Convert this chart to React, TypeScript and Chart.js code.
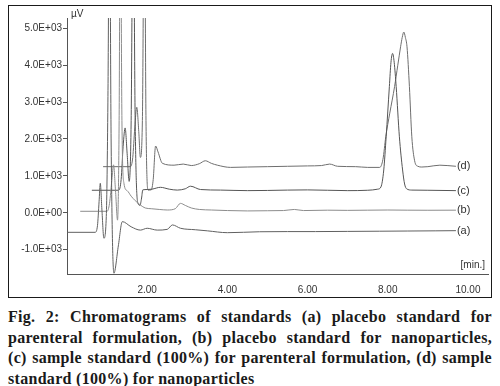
import React, { useEffect, useRef } from 'react';
import { Chart, registerables } from 'chart.js';

Chart.register(...registerables);

// ---- axis ticks ----
const xTickValues = [2, 4, 6, 8, 10];
const xTickLabels = ['2.00', '4.00', '6.00', '8.00', '10.00'];
const yTickValues = [-1000, 0, 1000, 2000, 3000, 4000, 5000];
const yTickLabels = ['-1.0E+03', '0.0E+00', '1.0E+03', '2.0E+03', '3.0E+03', '4.0E+03', '5.0E+03'];

// ---- series ----
const seriesNames = ['(a)', '(b)', '(c)', '(d)'];
const seriesColors = ['#606060', '#8c8c8c', '#555555', '#6e6e6e'];

const timeA = [0, 0.70, 0.76, 0.80, 0.83, 0.87, 0.92, 0.98, 1.02, 1.06, 1.10, 1.17, 1.28, 1.38, 1.60, 1.83, 2.0, 2.25, 2.5, 2.63, 2.83, 3.2, 3.5, 4.0, 4.8, 5.5, 6.2, 7.0, 7.8, 8.5, 9.2, 9.7];
const signalA = [-530, -530, -350, 300, 800, 100, -690, -100, 3000, 9000, 2000, -1640, -900, -240, -380, -470, -420, -470, -450, -330, -420, -460, -490, -540, -515, -510, -510, -505, -500, -495, -490, -485];

const timeB = [0.33, 1.00, 1.06, 1.12, 1.16, 1.21, 1.26, 1.30, 1.33, 1.37, 1.42, 1.50, 1.60, 1.70, 1.83, 1.95, 2.1, 2.3, 2.5, 2.7, 2.83, 2.95, 3.1, 3.3, 3.6, 4.0, 4.5, 5.0, 5.4, 5.67, 5.9, 6.5, 7.0, 7.5, 8.0, 8.5, 9.0, 9.7];
const signalB = [40, 40, 250, 900, 1300, 600, -200, 2500, 9000, 2500, 800, 600, 450, 330, 210, 130, 110, 90, 75, 110, 255, 200, 130, 90, 75, 60, 50, 55, 60, 90, 60, 70, 65, 70, 75, 70, 68, 70];

const timeC = [0.62, 1.29, 1.35, 1.40, 1.45, 1.50, 1.55, 1.60, 1.65, 1.70, 1.76, 1.82, 1.86, 1.89, 2.0, 2.12, 2.33, 2.55, 2.75, 2.95, 3.08, 3.33, 3.83, 4.5, 5.0, 5.5, 6.0, 6.5, 7.0, 7.5, 7.75, 7.83, 7.9, 7.96, 8.04, 8.08, 8.12, 8.16, 8.21, 8.29, 8.37, 8.42, 8.47, 8.6, 9.0, 9.7];
const signalC = [610, 610, 900, 1800, 2300, 1600, 850, 2500, 9000, 2500, 300, 200, 400, 620, 630, 640, 690, 640, 615, 650, 720, 630, 615, 600, 605, 615, 620, 610, 600, 610, 640, 700, 1160, 2060, 3420, 4080, 4320, 4080, 3420, 2060, 1160, 780, 650, 615, 610, 600];

const timeD = [0.90, 1.58, 1.64, 1.69, 1.74, 1.79, 1.83, 1.88, 1.93, 1.97, 2.02, 2.10, 2.15, 2.21, 2.27, 2.38, 2.67, 2.9, 3.1, 3.3, 3.45, 3.6, 3.75, 4.08, 4.5, 5.0, 5.5, 6.0, 6.35, 6.55, 6.75, 7.2, 7.5, 7.8, 7.88, 7.95, 8.05, 8.17, 8.25, 8.32, 8.36, 8.40, 8.44, 8.48, 8.54, 8.60, 8.67, 8.75, 8.85, 9.0, 9.3, 9.7];
const signalD = [1250, 1250, 1500, 2300, 2860, 2200, 1500, 2500, 9000, 2500, 615, 620, 900, 1810, 1650, 1340, 1290, 1320, 1280, 1330, 1410, 1340, 1290, 1230, 1240, 1250, 1260, 1270, 1280, 1320, 1260, 1250, 1230, 1230, 1450, 2060, 2700, 3420, 4000, 4500, 4750, 4900, 4750, 4500, 3420, 2060, 1410, 1260, 1240, 1250, 1290, 1260];

const seriesTimes = [timeA, timeB, timeC, timeD];
const seriesSignals = [signalA, signalB, signalC, signalD];

const FONT = '"Liberation Sans", Arial, sans-serif';

const textPlugin = {
  id: 'chromText',
  afterDatasetsDraw(chart: any) {
    const ctx = chart.ctx;
    ctx.save();
    ctx.fillStyle = '#333';
    ctx.font = `10px ${FONT}`;
    ctx.textBaseline = 'alphabetic';
    ctx.textAlign = 'left';
    ctx.fillText('\u00B5V', 71, 17);
    ctx.textAlign = 'right';
    ctx.fillText('[min.]', 485, 268);
    ctx.font = `11px ${FONT}`;
    ctx.textAlign = 'left';
    ctx.textBaseline = 'middle';
    chart.data.datasets.forEach((ds: any, i: number) => {
      const meta = chart.getDatasetMeta(i);
      const pts = meta.data;
      const last = pts[pts.length - 1];
      ctx.fillText(seriesNames[i], last.x + 1, last.y);
    });
    ctx.restore();
  },
};

function ChromChart() {
  const ref = useRef<HTMLCanvasElement | null>(null);
  useEffect(() => {
    if (!ref.current) return;
    const datasets = seriesNames.map((name, i) => ({
      label: name,
      data: seriesTimes[i].map((t, j) => ({ x: t, y: seriesSignals[i][j] })),
      borderColor: seriesColors[i],
      borderWidth: 1,
      pointRadius: 0,
      fill: false,
      cubicInterpolationMode: 'monotone' as const,
      tension: 0.3,
    }));
    const chart = new Chart(ref.current, {
      type: 'line',
      data: { datasets },
      options: {
        animation: false,
        responsive: false,
        maintainAspectRatio: false,
        layout: { padding: { top: 18, right: 12, left: 0, bottom: 0 } },
        plugins: { legend: { display: false }, tooltip: { enabled: false } },
        scales: {
          x: {
            type: 'linear',
            min: 0,
            max: 10.5,
            afterBuildTicks: (s: any) => {
              s.ticks = xTickValues.map((v) => ({ value: v }));
            },
            afterFit: (s: any) => {
              s.height = 26;
            },
            ticks: {
              callback: (v: any) => {
                const k = xTickValues.indexOf(Number(v));
                return k >= 0 ? xTickLabels[k] : '';
              },
              font: { family: FONT, size: 10 },
              color: '#333',
              padding: 2,
              maxRotation: 0,
              autoSkip: false,
            },
            grid: { display: false },
            border: { display: true, color: '#555', width: 1 },
          },
          y: {
            type: 'linear',
            min: -1660,
            max: 5280,
            afterBuildTicks: (s: any) => {
              s.ticks = yTickValues.map((v) => ({ value: v }));
            },
            afterFit: (s: any) => {
              s.width = 67;
            },
            ticks: {
              callback: (v: any) => {
                const k = yTickValues.indexOf(Number(v));
                return k >= 0 ? yTickLabels[k] : '';
              },
              font: { family: FONT, size: 10 },
              color: '#333',
              padding: 1,
              autoSkip: false,
            },
            grid: { drawOnChartArea: false, drawTicks: true, tickLength: 4, color: '#555' },
            border: { display: true, color: '#555', width: 1 },
          },
        },
      },
      plugins: [textPlugin],
    });
    return () => chart.destroy();
  }, []);
  return <canvas ref={ref} width={500} height={300} style={{ position: 'absolute', left: 0, top: 0, width: 500, height: 300 }} />;
}

const captionLines = [
  'Fig. 2: Chromatograms of standards (a) placebo standard for',
  'parenteral formulation, (b) placebo standard for nanoparticles,',
  '(c) sample standard (100%) for parenteral formulation, (d) sample',
  'standard (100%) for nanoparticles',
];

export default function App() {
  return (
    <div style={{ position: 'fixed', left: 0, top: 0, width: 500, height: 386, background: '#fff', overflow: 'hidden' }}>
      <div
        style={{
          position: 'absolute',
          left: 8,
          top: 5,
          width: 484,
          height: 293,
          border: '1.5px solid #1a1a1a',
          boxSizing: 'border-box',
        }}
      />
      <ChromChart />
      <div
        style={{
          position: 'absolute',
          left: 8,
          top: 307,
          width: 484,
          fontFamily: '"Liberation Serif", "Times New Roman", serif',
          fontWeight: 'bold',
          fontSize: 16,
          letterSpacing: '0.3px',
          lineHeight: '20.6px',
          color: '#1a1a1a',
        }}
      >
        {captionLines.map((l, i) => (
          <div
            key={i}
            style={{
              whiteSpace: 'nowrap',
              textAlign: i < captionLines.length - 1 ? 'justify' : 'left',
              textAlignLast: i < captionLines.length - 1 ? 'justify' : 'left',
            } as any}
          >
            {l}
          </div>
        ))}
      </div>
    </div>
  );
}
